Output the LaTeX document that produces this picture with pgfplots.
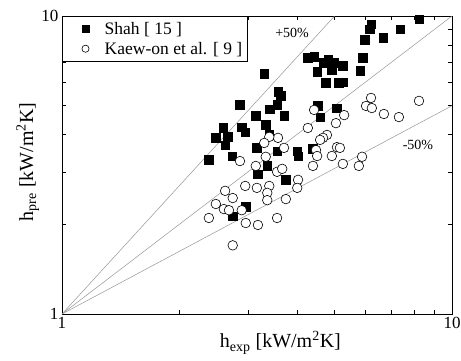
\documentclass[border=0pt]{standalone}
\usepackage{fontspec}
\setmainfont{Liberation Serif}
\usepackage{pgfplots}
\pgfplotsset{compat=1.18}
\definecolor{refgray}{RGB}{150,150,150}
\begin{document}
\begin{tikzpicture}
\begin{loglogaxis}[
  scale only axis, width=390pt, height=298pt,
  xmin=1, xmax=10, ymin=1, ymax=10,
  xtick={1,10}, ytick={1,10},
  xticklabels={1,10}, yticklabels={1,10},
  /pgf/number format/assume math mode=true,
  tick label style={font=\fontsize{17}{19}\selectfont},
  tick align=inside,
  major tick length=5pt, minor tick length=4pt,
  axis line style={line width=0.8pt},
  every tick/.style={black, line width=0.6pt},
  xlabel={h\textsubscript{exp} [kW/m\textsuperscript{2}K]},
  ylabel={h\textsubscript{pre} [kW/m\textsuperscript{2}K]},
  xlabel style={font=\fontsize{20}{23}\selectfont, at={(rel axis cs:0.56,-0.114)}, anchor=base},
  ylabel style={font=\fontsize{20}{23}\selectfont, at={(rel axis cs:-0.074,0.51)}, anchor=base},
  legend style={at={(0,1)}, anchor=north west, draw=black, line width=0.5pt,
    font=\fontsize{17.5}{19}\selectfont, inner xsep=3pt, inner ysep=4pt, row sep=2pt,
    nodes={inner sep=2pt}, legend cell align=left},
  legend image code/.code={\path (0pt,0pt) (37pt,0pt); \draw[#1, mark size=3.6pt] plot coordinates {(20pt,0pt)};},
  clip=true,
]
\addplot[only marks, mark=square*, mark size=4.3pt, mark options={fill=black, draw=black}] coordinates {
(8.23,9.77) (7.36,9.04) (6.20,9.40) (6.16,9.04) (6.66,8.44) (5.98,8.31)
(5.91,7.23) (5.81,6.54) (4.27,7.23) (4.43,7.29) (4.67,6.96) (4.81,7.12)
(4.98,6.96) (5.25,6.80) (4.51,6.49) (4.92,6.59) (4.75,5.96) (5.13,5.96)
(5.25,6.00) (3.30,6.39) (3.58,5.56) (3.64,5.39) (3.56,5.03) (3.41,4.87)
(2.86,5.03) (3.14,4.62) (3.71,4.62) (4.53,4.99) (4.59,4.58) (5.07,4.91)
(2.59,4.21) (2.89,4.24) (3.33,4.31) (2.95,4.08) (2.48,3.90) (2.66,3.93)
(2.62,3.69) (3.40,3.99) (3.16,3.61) (3.56,3.52) (4.01,3.52) (4.03,3.39)
(4.40,3.58) (2.38,3.29) (2.73,3.39) (3.36,3.14) (3.18,2.95) (3.75,2.82)
(2.96,2.29) (2.74,2.13)
};
\addlegendentry{Shah [ 15 ]}
\addplot[only marks, mark=*, mark size=4.8pt, mark options={fill=white, draw=black, line width=0.6pt}] coordinates {
(8.23,5.19) (6.20,5.31) (6.02,4.99) (6.23,4.91) (6.69,4.69) (7.31,4.58)
(4.43,4.84) (5.29,4.65) (5.04,4.37) (4.27,4.21) (4.78,3.99) (4.67,3.90)
(4.59,3.84) (5.07,3.63) (5.16,3.61) (4.92,3.39) (5.25,3.19) (5.88,3.37)
(5.77,3.14) (4.40,3.14) (4.48,3.55) (4.51,3.39) (3.71,3.61) (3.58,3.90)
(3.40,3.93) (3.30,3.75) (3.33,3.37) (3.14,3.14) (2.86,3.26) (3.56,3.00)
(3.67,3.07) (4.03,2.82) (4.01,2.65) (2.95,2.69) (3.16,2.65) (3.40,2.69)
(3.36,2.55) (3.36,2.41) (3.75,2.43) (2.62,2.59) (2.74,2.45) (2.48,2.34)
(2.60,2.25) (2.68,2.23) (2.89,2.23) (2.38,2.10) (2.96,2.02) (3.18,1.99)
(3.56,2.10) (2.74,1.70)
};
\addlegendentry{Kaew-on et al. [ 9 ]}
\addplot[refgray, line width=0.5pt, forget plot] coordinates {(1,1) (5,10)};
\addplot[refgray, line width=0.5pt, forget plot] coordinates {(1,1) (10,10)};
\addplot[refgray, line width=0.5pt, forget plot] coordinates {(1,1) (10,5)};
\node[font=\fontsize{14}{16}\selectfont] at (axis cs:3.89,8.77) {+50\%};
\node[font=\fontsize{14}{16}\selectfont] at (axis cs:8.18,3.69) {-50\%};
\coordinate (sw) at (rel axis cs:0,0);
\end{loglogaxis}
\pgfresetboundingbox
\path (sw) ++(-62pt,-46pt) rectangle ++(461pt,360pt);
\end{tikzpicture}
\end{document}
